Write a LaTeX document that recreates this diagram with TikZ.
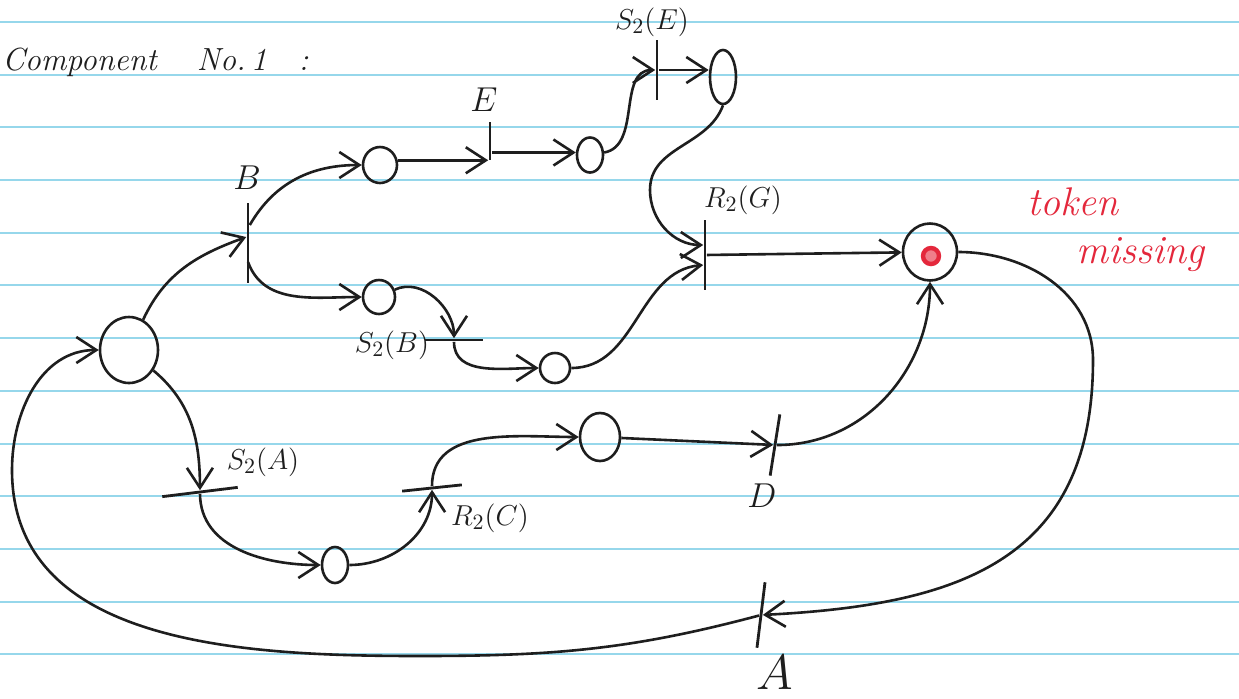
\documentclass[tikz,border=0pt]{standalone}
\usepackage{amsmath}
\usetikzlibrary{arrows.meta,shapes.geometric}
\definecolor{ink}{RGB}{30,30,30}
\definecolor{pen}{RGB}{228,40,60}
\definecolor{rule}{RGB}{150,215,235}

\begin{document}
\begin{tikzpicture}[x=0.5pt,y=0.5pt,
  every node/.append style={inner sep=0pt},
  place/.style={draw=ink, ellipse, line width=1.3pt},
  bar/.style={fill=ink},
  vbar/.style={bar, minimum width=1.4pt, minimum height=#1},
  hbar/.style={bar, minimum height=1.4pt, minimum width=#1},
  flow/.style={draw=ink, line width=1.3pt, -{Straight Barb[length=10pt,width=13pt]}},
  lbl/.style={text=ink, font=\fontsize{15}{18}\selectfont},
  big/.style={text=ink, font=\fontsize{19}{22}\selectfont},
  note/.style={text=pen, font=\fontsize{20}{24}\selectfont\itshape},
  tokenmark/.style={circle, draw=pen, fill=pen!60, line width=2.2pt, minimum size=8pt},
  ruling/.style={draw=rule, line width=1pt}]
\useasboundingbox (0,0) rectangle (1239,-698);
\fill[white] (0,0) rectangle (1239,-698);
\foreach \y in {22,75,127,180,233,285,338,391,444,496,549,602,654}
  \draw[ruling] (0,-\y) -- (1239,-\y);

\node[anchor=west, text=ink, font=\fontsize{16}{20}\selectfont\itshape] (title) at (2,-62) {Component\hspace{20pt}No.\,1\hspace{16pt}:};

\node[place, minimum width=29pt, minimum height=33pt] (p0) at (129,-350) {};
\node[place, minimum width=17pt, minimum height=18pt] (p1) at (380,-165) {};
\node[place, minimum width=16pt, minimum height=17pt] (p2) at (379,-297) {};
\node[place, minimum width=13pt, minimum height=17.5pt] (p3) at (590,-155) {};
\node[place, minimum width=13pt, minimum height=27pt] (p4) at (723,-77) {};
\node[place, minimum width=15pt, minimum height=15pt] (p5) at (555,-368) {};
\node[place, minimum width=13pt, minimum height=18pt] (p6) at (335,-565) {};
\node[place, minimum width=20pt, minimum height=24pt] (p7) at (600,-437) {};
\node[place, minimum width=27pt, minimum height=28.5pt] (pr) at (930,-252) {};
\node[tokenmark] (tok) at (931,-256) {};

\node[vbar=40pt] (tB) at (248,-243) {};
\node[vbar=19pt] (tE) at (490,-141) {};
\node[vbar=30pt] (tSE) at (657,-70) {};
\node[vbar=35pt] (tRG) at (705,-255) {};
\node[vbar=31pt, rotate=-9] (tD) at (775,-445) {};
\node[vbar=33pt, rotate=-7] (tA) at (761,-615) {};
\node[hbar=29pt] (tSB) at (454,-340) {};
\node[hbar=38pt, rotate=7] (tSA) at (200,-492) {};
\node[hbar=30pt, rotate=6] (tRC) at (432,-488) {};

\node[big] (lB) at (247,-178) {$B$};
\node[big] (lE) at (484,-100) {$E$};
\node[lbl] (lSE) at (652,-22) {$S_2(E)$};
\node[lbl] (lRG) at (743,-200) {$R_2(G)$};
\node[lbl] (lSB) at (392,-345) {$S_2(B)$};
\node[lbl] (lSA) at (263,-462) {$S_2(A)$};
\node[lbl] (lRC) at (490,-518) {$R_2(C)$};
\node[big] (lD) at (762,-496) {$D$};
\node[big, font=\fontsize{24}{28}\selectfont] (lA) at (775,-672) {$A$};

\node[note] (nTok) at (1073,-202) {token};
\node[note] (nMis) at (1140,-255) {missing};

\draw[flow] (p0) to[out=65,in=200] ([yshift=3pt]tB.west);
\draw[flow] ([yshift=9pt]tB.east) to[out=60,in=180] (p1);
\draw[flow] ([yshift=-9.5pt]tB.center) to[out=-70,in=180] (p2);
\draw[flow] (p1.15) -- (p1.15 -| tE.west);
\draw[flow] (tE.east |- p3.170) -- (p3.170);
\draw[flow] (p3) to[out=10,in=180] (tSE);
\draw[flow] (tSE.east) -- (tSE.east -| p4.west);
\draw[flow] (p4.south) to[out=-110,in=90] (650,-190) to[out=-90,in=180] ([yshift=5pt]tRG.west);
\draw[flow] (p2) to[out=25,in=90] (tSB);
\draw[flow] (tSB) to[out=-90,in=180] (p5);
\draw[flow] (p5) to[out=0,in=185] ([yshift=-5pt]tRG.west);
\draw[flow] (tRG) -- (pr);
\draw[flow] (pr) to[out=0,in=90] (1093,-360) .. controls (1093,-560) and (960,-605) .. (tA);
\draw[flow] (tA) to[out=195,in=0] (420,-656) to[out=180,in=-90] (12,-470) to[out=90,in=180] (p0);
\draw[flow] (p0) to[out=-40,in=90] (tSA);
\draw[flow] (tSA) to[out=-90,in=180] (p6);
\draw[flow] (p6) to[out=0,in=-90] (tRC);
\draw[flow] (tRC) to[out=90,in=180] (p7);
\draw[flow] (p7) -- (tD);
\draw[flow] (tD) to[out=0,in=-90] (pr);
\end{tikzpicture}
\end{document}
